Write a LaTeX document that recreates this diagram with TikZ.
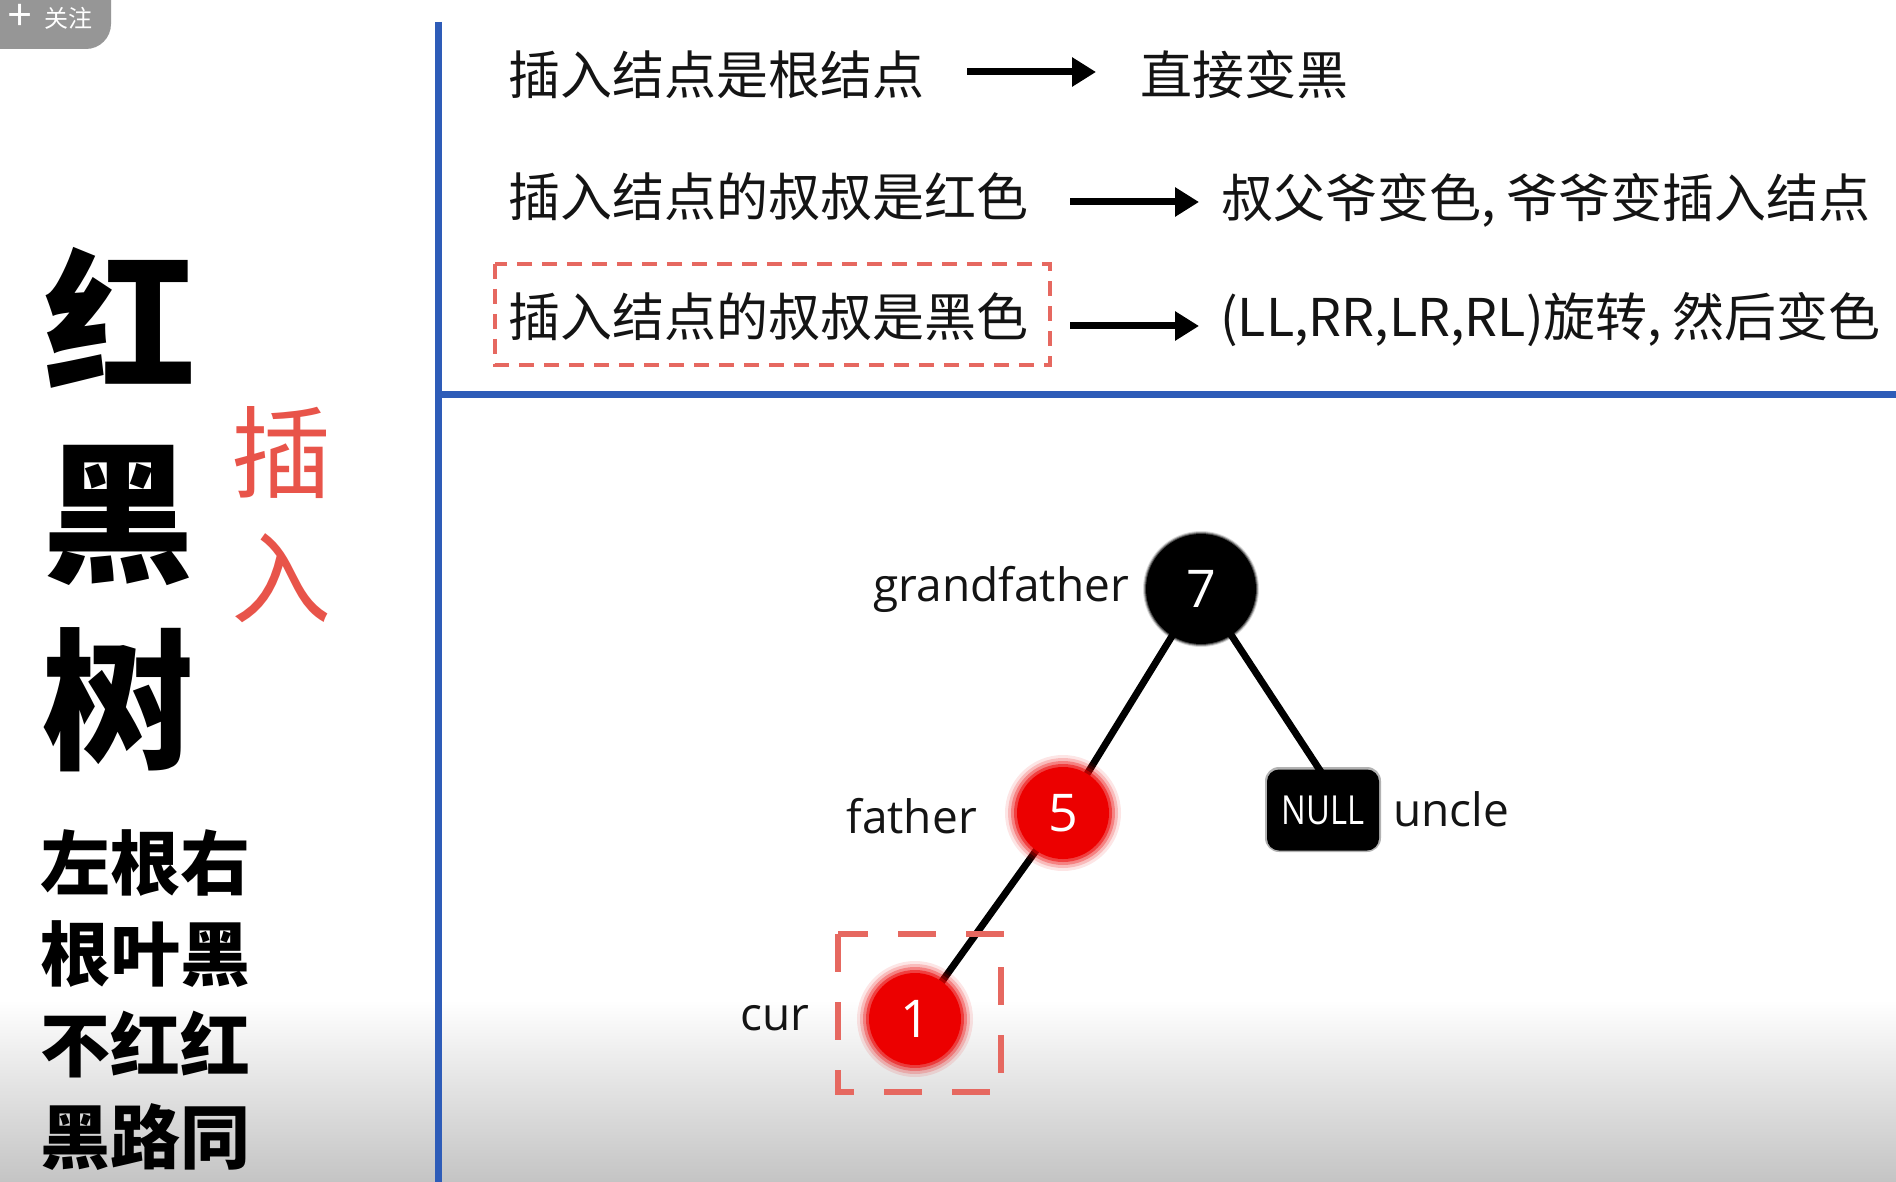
\documentclass[tikz,border=0pt]{standalone}
\usepackage{fontspec}
\setmainfont{Open Sans}
\newfontfamily\cjk{Noto Sans CJK SC}
\newfontfamily\lab{Open Sans}
\usetikzlibrary{arrows.meta,shadings}
\definecolor{lineblue}{RGB}{46,92,184}
\definecolor{boxred}{RGB}{230,104,96}
\definecolor{labred}{RGB}{232,84,74}
\definecolor{nodered}{RGB}{236,0,0}
\definecolor{badgegray}{RGB}{150,150,150}
\definecolor{ink}{RGB}{20,20,20}
\newcommand{\hcomma}{,\hspace{0.2em}}
\begin{document}
\begin{tikzpicture}[x=1pt,y=-1pt,
  toptext/.style={font=\cjk\fontsize{52}{52}\selectfont, text=ink, anchor=west, inner sep=0pt},
  bigchar/.style={font=\cjk\bfseries\fontsize{152}{152}\selectfont, text=black, inner sep=0pt},
  redchar/.style={font=\cjk\fontsize{100}{100}\selectfont, text=labred, inner sep=0pt},
  rulechar/.style={font=\cjk\bfseries\fontsize{70}{70}\selectfont, text=black, inner sep=0pt},
  bigarrow/.style={line width=7pt, -{Triangle[length=24pt,width=28pt]}},
  sep/.style={line width=7pt, lineblue},
  edge/.style={line width=7pt, black},
  treelab/.style={font=\lab\fontsize{46}{46}\selectfont, text=ink, inner sep=0pt},
  numlab/.style={font=\lab\fontsize{52}{52}\selectfont, text=white},
  rednode/.style={circle, fill=nodered, minimum size=92pt, inner sep=0pt, numlab},
  blacknode/.style={circle, fill=black, minimum size=110pt, inner sep=0pt, numlab},
  dashbox/.style={boxred, line width=4.5pt, dash pattern=on 15pt off 10pt},
  curbox/.style={boxred, line width=6pt, dash pattern=on 38pt off 30pt}
]
\useasboundingbox (0,0) rectangle (1896,1182);
% background with bottom fade
\fill[white] (0,0) rectangle (1896,1182);
\shade[top color=white, bottom color={rgb,255:red,196;green,196;blue,196}] (0,1000) rectangle (1896,1182);

% badge
\fill[badgegray, rounded corners=25pt] (-40,-40) rectangle (111,49);
\node[font=\lab\fontsize{44}{44}\selectfont, text=white, inner sep=0pt] (plus) at (20,17) {+};
\node[font=\cjk\fontsize{24}{24}\selectfont, text=white, anchor=west, inner sep=0pt] (badge) at (44,18) {关注};

% separators
\coordinate (vtop) at (438,22);
\coordinate (vbot) at (438,1182);
\coordinate (hl) at (438,394);
\coordinate (hr) at (1896,394);
\draw[sep] (vtop) -- (vbot);
\draw[sep] (hl) -- (hr);

% left column
\node[bigchar] (hong) at (120,318) {红};
\node[bigchar] (hei) at (118,515) {黑};
\node[bigchar] (shu) at (118,700) {树};
\node[redchar] (cha) at (281,453) {插};
\node[redchar] (ru) at (281,578) {入};
\node[rulechar] (r1) at (145,863) {左根右};
\node[rulechar] (r2) at (145,954) {根叶黑};
\node[rulechar] (r3) at (145,1045) {不红红};
\node[rulechar] (r4) at (145,1137) {黑路同};

% rules at top
\node[toptext] (a1) at (508,75) {插入结点是根结点};
\node[toptext] (b1) at (1140,75) {直接变黑};
\node[toptext] (a2) at (508,197) {插入结点的叔叔是红色};
\node[toptext] (b2) at (1221,200) {叔父爷变色\hcomma 爷爷变插入结点};
\node[toptext] (a3) at (508,317) {插入结点的叔叔是黑色};
\node[toptext] (b3) at (1220,320) {(LL,RR,LR,RL)旋转\hcomma 然后变色};
\coordinate (s1) at (967,72);  \coordinate (e1) at (1096,72);
\coordinate (s2) at (1070,202); \coordinate (e2) at (1199,202);
\coordinate (s3) at (1070,326); \coordinate (e3) at (1199,326);
\draw[bigarrow] (s1) -- (e1);
\draw[bigarrow] (s2) -- (e2);
\draw[bigarrow] (s3) -- (e3);
\draw[dashbox] (495,264) rectangle (1050,365);

% tree
\coordinate (p7) at (1201,589);
\coordinate (p5) at (1063,813);
\coordinate (p1) at (915,1019);
\coordinate (pn) at (1323,810);
\draw[edge] (p7) -- (p5);
\draw[edge] (p5) -- (p1);
\draw[edge] (p7) -- (1323,775);

\foreach \r/\o in {58/0.15, 57/0.3, 56/0.5}{
  \fill[black, opacity=\o] (p7) circle (\r pt);
}
\node[blacknode] (n7) at (p7) {7};

\foreach \r/\o in {58/0.10, 55/0.18, 52/0.3, 49/0.5}{
  \fill[nodered, opacity=\o] (p5) circle (\r pt);
  \fill[nodered, opacity=\o] (p1) circle (\r pt);
}
\node[rednode] (n5) at (p5) {5};
\node[rednode] (n1) at (p1) {1};

\fill[black, opacity=0.3, rounded corners=14pt] (1265,767) rectangle (1381,852);
\node[fill=black, rounded corners=12pt, minimum width=112pt, minimum height=81pt, inner sep=0pt,
      font=\lab\fontsize{40}{40}\selectfont, text=white] (null) at (pn) {\scalebox{0.82}[1]{NULL}};

\node[treelab, anchor=base east] (gf) at (1129,601) {grandfather};
\node[treelab, anchor=base east] (fa) at (977,833) {father};
\node[treelab, anchor=base west] (un) at (1393,826) {uncle};
\node[treelab, anchor=base west] (cu) at (740,1030) {cur};

\draw[curbox] (838,934) rectangle (1001,1092);
\end{tikzpicture}
\end{document}
